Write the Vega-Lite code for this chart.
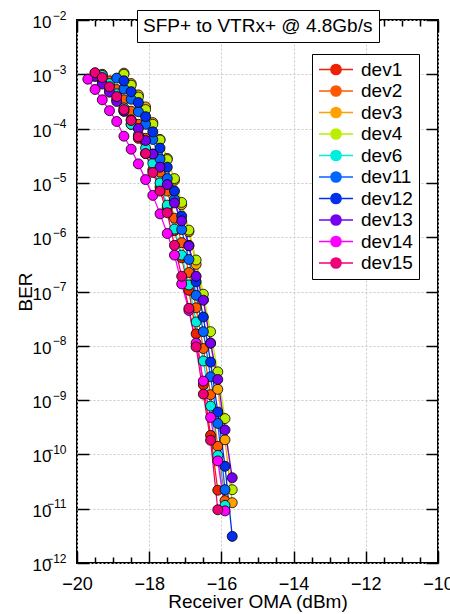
{
  "$schema": "https://vega.github.io/schema/vega-lite/v6.json",
  "width": 361,
  "height": 543,
  "autosize": {"type": "none"},
  "padding": {"left": 77, "top": 20, "right": 12, "bottom": 51},
  "background": "white",
  "config": {
    "font": "Liberation Sans",
    "view": {"stroke": "black", "strokeWidth": 2},
    "axis": {"domain": false, "tickColor": "black", "tickWidth": 1.5, "labelColor": "black", "titleColor": "black", "titleFontWeight": "normal", "gridColor": "#c8c8c8", "gridDash": [2, 2], "gridWidth": 1, "labelFlush": false, "labelOverlap": false}
  },
  "datasets": {
    "ber": [
      {"device": "dev1", "oma": -19.5, "ber": 1.05e-3},
      {"device": "dev1", "oma": -19.3, "ber": 7.59e-4},
      {"device": "dev1", "oma": -19.1, "ber": 5.25e-4},
      {"device": "dev1", "oma": -18.9, "ber": 3.39e-4},
      {"device": "dev1", "oma": -18.7, "ber": 2.09e-4},
      {"device": "dev1", "oma": -18.5, "ber": 1.20e-4},
      {"device": "dev1", "oma": -18.3, "ber": 6.61e-5},
      {"device": "dev1", "oma": -18.1, "ber": 3.47e-5},
      {"device": "dev1", "oma": -17.9, "ber": 1.74e-5},
      {"device": "dev1", "oma": -17.7, "ber": 8.32e-6},
      {"device": "dev1", "oma": -17.5, "ber": 3.55e-6},
      {"device": "dev1", "oma": -17.3, "ber": 1.32e-6},
      {"device": "dev1", "oma": -17.1, "ber": 4.17e-7},
      {"device": "dev1", "oma": -16.9, "ber": 1.05e-7},
      {"device": "dev1", "oma": -16.7, "ber": 1.66e-8},
      {"device": "dev1", "oma": -16.5, "ber": 1.91e-9},
      {"device": "dev1", "oma": -16.3, "ber": 2.24e-10},
      {"device": "dev1", "oma": -16.1, "ber": 2.19e-11},

      {"device": "dev2", "oma": -19.3, "ber": 1.0e-3},
      {"device": "dev2", "oma": -19.1, "ber": 7.59e-4},
      {"device": "dev2", "oma": -18.9, "ber": 5.25e-4},
      {"device": "dev2", "oma": -18.7, "ber": 3.39e-4},
      {"device": "dev2", "oma": -18.5, "ber": 2.09e-4},
      {"device": "dev2", "oma": -18.3, "ber": 1.20e-4},
      {"device": "dev2", "oma": -18.1, "ber": 6.61e-5},
      {"device": "dev2", "oma": -17.9, "ber": 3.39e-5},
      {"device": "dev2", "oma": -17.7, "ber": 1.58e-5},
      {"device": "dev2", "oma": -17.5, "ber": 7.08e-6},
      {"device": "dev2", "oma": -17.3, "ber": 2.24e-6},
      {"device": "dev2", "oma": -17.1, "ber": 7.94e-7},
      {"device": "dev2", "oma": -16.9, "ber": 2.24e-7},
      {"device": "dev2", "oma": -16.7, "ber": 5.01e-8},
      {"device": "dev2", "oma": -16.5, "ber": 8.91e-9},
      {"device": "dev2", "oma": -16.3, "ber": 1.26e-9},
      {"device": "dev2", "oma": -16.1, "ber": 1.41e-10},
      {"device": "dev2", "oma": -15.9, "ber": 1.41e-11},

      {"device": "dev3", "oma": -18.7, "ber": 1.05e-3},
      {"device": "dev3", "oma": -18.5, "ber": 6.76e-4},
      {"device": "dev3", "oma": -18.3, "ber": 4.17e-4},
      {"device": "dev3", "oma": -18.1, "ber": 2.51e-4},
      {"device": "dev3", "oma": -17.9, "ber": 1.29e-4},
      {"device": "dev3", "oma": -17.7, "ber": 6.31e-5},
      {"device": "dev3", "oma": -17.5, "ber": 2.82e-5},
      {"device": "dev3", "oma": -17.3, "ber": 1.12e-5},
      {"device": "dev3", "oma": -17.1, "ber": 3.98e-6},
      {"device": "dev3", "oma": -16.9, "ber": 1.26e-6},
      {"device": "dev3", "oma": -16.7, "ber": 3.16e-7},
      {"device": "dev3", "oma": -16.5, "ber": 7.08e-8},
      {"device": "dev3", "oma": -16.3, "ber": 1.12e-8},
      {"device": "dev3", "oma": -16.1, "ber": 1.58e-9},
      {"device": "dev3", "oma": -15.9, "ber": 1.86e-10},
      {"device": "dev3", "oma": -15.7, "ber": 1.29e-11},

      {"device": "dev4", "oma": -18.7, "ber": 1.0e-3},
      {"device": "dev4", "oma": -18.5, "ber": 6.31e-4},
      {"device": "dev4", "oma": -18.3, "ber": 3.80e-4},
      {"device": "dev4", "oma": -18.1, "ber": 2.24e-4},
      {"device": "dev4", "oma": -17.9, "ber": 1.20e-4},
      {"device": "dev4", "oma": -17.7, "ber": 6.17e-5},
      {"device": "dev4", "oma": -17.5, "ber": 2.69e-5},
      {"device": "dev4", "oma": -17.3, "ber": 1.20e-5},
      {"device": "dev4", "oma": -17.1, "ber": 4.37e-6},
      {"device": "dev4", "oma": -16.9, "ber": 1.35e-6},
      {"device": "dev4", "oma": -16.7, "ber": 3.80e-7},
      {"device": "dev4", "oma": -16.5, "ber": 8.91e-8},
      {"device": "dev4", "oma": -16.3, "ber": 1.82e-8},
      {"device": "dev4", "oma": -16.1, "ber": 3.31e-9},
      {"device": "dev4", "oma": -15.9, "ber": 4.57e-10},
      {"device": "dev4", "oma": -15.7, "ber": 2.24e-11},

      {"device": "dev6", "oma": -19.3, "ber": 9.55e-4},
      {"device": "dev6", "oma": -19.1, "ber": 6.76e-4},
      {"device": "dev6", "oma": -18.9, "ber": 4.37e-4},
      {"device": "dev6", "oma": -18.7, "ber": 2.40e-4},
      {"device": "dev6", "oma": -18.5, "ber": 1.20e-4},
      {"device": "dev6", "oma": -18.3, "ber": 7.59e-5},
      {"device": "dev6", "oma": -18.1, "ber": 4.37e-5},
      {"device": "dev6", "oma": -17.9, "ber": 2.29e-5},
      {"device": "dev6", "oma": -17.7, "ber": 1.0e-5},
      {"device": "dev6", "oma": -17.5, "ber": 3.89e-6},
      {"device": "dev6", "oma": -17.3, "ber": 1.41e-6},
      {"device": "dev6", "oma": -17.1, "ber": 4.68e-7},
      {"device": "dev6", "oma": -16.9, "ber": 1.32e-7},
      {"device": "dev6", "oma": -16.7, "ber": 2.75e-8},
      {"device": "dev6", "oma": -16.5, "ber": 5.25e-9},
      {"device": "dev6", "oma": -16.3, "ber": 7.76e-10},
      {"device": "dev6", "oma": -16.1, "ber": 9.55e-11},
      {"device": "dev6", "oma": -15.9, "ber": 1.15e-11},

      {"device": "dev11", "oma": -18.9, "ber": 8.51e-4},
      {"device": "dev11", "oma": -18.7, "ber": 5.37e-4},
      {"device": "dev11", "oma": -18.5, "ber": 3.47e-4},
      {"device": "dev11", "oma": -18.3, "ber": 2.04e-4},
      {"device": "dev11", "oma": -18.1, "ber": 1.20e-4},
      {"device": "dev11", "oma": -17.9, "ber": 6.31e-5},
      {"device": "dev11", "oma": -17.7, "ber": 2.75e-5},
      {"device": "dev11", "oma": -17.5, "ber": 1.20e-5},
      {"device": "dev11", "oma": -17.3, "ber": 5.01e-6},
      {"device": "dev11", "oma": -17.1, "ber": 1.38e-6},
      {"device": "dev11", "oma": -16.9, "ber": 3.89e-7},
      {"device": "dev11", "oma": -16.7, "ber": 8.51e-8},
      {"device": "dev11", "oma": -16.5, "ber": 1.82e-8},
      {"device": "dev11", "oma": -16.3, "ber": 2.69e-9},
      {"device": "dev11", "oma": -16.1, "ber": 3.72e-10},
      {"device": "dev11", "oma": -15.9, "ber": 2.24e-11},

      {"device": "dev12", "oma": -18.7, "ber": 7.59e-4},
      {"device": "dev12", "oma": -18.5, "ber": 4.79e-4},
      {"device": "dev12", "oma": -18.3, "ber": 3.02e-4},
      {"device": "dev12", "oma": -18.1, "ber": 1.66e-4},
      {"device": "dev12", "oma": -17.9, "ber": 8.71e-5},
      {"device": "dev12", "oma": -17.7, "ber": 4.37e-5},
      {"device": "dev12", "oma": -17.5, "ber": 1.95e-5},
      {"device": "dev12", "oma": -17.3, "ber": 7.08e-6},
      {"device": "dev12", "oma": -17.1, "ber": 2.45e-6},
      {"device": "dev12", "oma": -16.9, "ber": 7.08e-7},
      {"device": "dev12", "oma": -16.7, "ber": 1.51e-7},
      {"device": "dev12", "oma": -16.5, "ber": 3.39e-8},
      {"device": "dev12", "oma": -16.3, "ber": 5.01e-9},
      {"device": "dev12", "oma": -16.1, "ber": 6.03e-10},
      {"device": "dev12", "oma": -15.9, "ber": 6.03e-11},
      {"device": "dev12", "oma": -15.7, "ber": 3.09e-12},

      {"device": "dev13", "oma": -19.5, "ber": 9.12e-4},
      {"device": "dev13", "oma": -19.3, "ber": 6.61e-4},
      {"device": "dev13", "oma": -19.1, "ber": 4.68e-4},
      {"device": "dev13", "oma": -18.9, "ber": 3.16e-4},
      {"device": "dev13", "oma": -18.7, "ber": 2.09e-4},
      {"device": "dev13", "oma": -18.5, "ber": 1.45e-4},
      {"device": "dev13", "oma": -18.3, "ber": 1.0e-4},
      {"device": "dev13", "oma": -18.1, "ber": 6.03e-5},
      {"device": "dev13", "oma": -17.9, "ber": 3.39e-5},
      {"device": "dev13", "oma": -17.7, "ber": 1.95e-5},
      {"device": "dev13", "oma": -17.5, "ber": 9.33e-6},
      {"device": "dev13", "oma": -17.3, "ber": 4.27e-6},
      {"device": "dev13", "oma": -17.1, "ber": 2.0e-6},
      {"device": "dev13", "oma": -16.9, "ber": 6.92e-7},
      {"device": "dev13", "oma": -16.7, "ber": 1.91e-7},
      {"device": "dev13", "oma": -16.5, "ber": 6.92e-8},
      {"device": "dev13", "oma": -16.3, "ber": 1.12e-8},
      {"device": "dev13", "oma": -16.1, "ber": 2.40e-9},
      {"device": "dev13", "oma": -15.9, "ber": 2.82e-10},
      {"device": "dev13", "oma": -15.7, "ber": 3.72e-11},

      {"device": "dev14", "oma": -19.7, "ber": 8.13e-4},
      {"device": "dev14", "oma": -19.5, "ber": 5.25e-4},
      {"device": "dev14", "oma": -19.3, "ber": 3.39e-4},
      {"device": "dev14", "oma": -19.1, "ber": 2.14e-4},
      {"device": "dev14", "oma": -18.9, "ber": 1.35e-4},
      {"device": "dev14", "oma": -18.7, "ber": 7.24e-5},
      {"device": "dev14", "oma": -18.5, "ber": 4.17e-5},
      {"device": "dev14", "oma": -18.3, "ber": 2.24e-5},
      {"device": "dev14", "oma": -18.1, "ber": 1.15e-5},
      {"device": "dev14", "oma": -17.9, "ber": 5.89e-6},
      {"device": "dev14", "oma": -17.7, "ber": 2.69e-6},
      {"device": "dev14", "oma": -17.5, "ber": 1.17e-6},
      {"device": "dev14", "oma": -17.3, "ber": 4.68e-7},
      {"device": "dev14", "oma": -17.1, "ber": 1.38e-7},
      {"device": "dev14", "oma": -16.9, "ber": 4.47e-8},
      {"device": "dev14", "oma": -16.7, "ber": 1.12e-8},
      {"device": "dev14", "oma": -16.5, "ber": 2.24e-9},
      {"device": "dev14", "oma": -16.3, "ber": 4.79e-10},
      {"device": "dev14", "oma": -16.1, "ber": 7.59e-11},
      {"device": "dev14", "oma": -15.9, "ber": 9.12e-12},

      {"device": "dev15", "oma": -19.5, "ber": 1.07e-3},
      {"device": "dev15", "oma": -19.3, "ber": 8.71e-4},
      {"device": "dev15", "oma": -19.1, "ber": 5.89e-4},
      {"device": "dev15", "oma": -18.9, "ber": 3.89e-4},
      {"device": "dev15", "oma": -18.7, "ber": 2.24e-4},
      {"device": "dev15", "oma": -18.5, "ber": 1.41e-4},
      {"device": "dev15", "oma": -18.3, "ber": 7.08e-5},
      {"device": "dev15", "oma": -18.1, "ber": 3.47e-5},
      {"device": "dev15", "oma": -17.9, "ber": 1.55e-5},
      {"device": "dev15", "oma": -17.7, "ber": 7.08e-6},
      {"device": "dev15", "oma": -17.5, "ber": 2.82e-6},
      {"device": "dev15", "oma": -17.3, "ber": 7.08e-7},
      {"device": "dev15", "oma": -17.1, "ber": 1.91e-7},
      {"device": "dev15", "oma": -16.9, "ber": 4.90e-8},
      {"device": "dev15", "oma": -16.7, "ber": 9.55e-9},
      {"device": "dev15", "oma": -16.5, "ber": 1.29e-9},
      {"device": "dev15", "oma": -16.3, "ber": 1.82e-10},
      {"device": "dev15", "oma": -16.1, "ber": 9.55e-12}
    ]
  },
  "layer": [
    {
      "data": {"name": "ber"},
      "mark": {"type": "line", "strokeWidth": 1.3},
      "encoding": {
        "x": {"field": "oma", "type": "quantitative",
          "scale": {"domain": [-20, -10], "nice": false, "zero": false},
          "axis": {"orient": "bottom", "values": [-20, -18, -16, -14, -12, -10], "tickSize": -12, "labelFontSize": 18, "labelPadding": 24, "title": "Receiver OMA (dBm)", "titleFontSize": 19, "titlePadding": -1, "grid": true}},
        "y": {"field": "ber", "type": "quantitative",
          "scale": {"type": "log", "domain": [1e-12, 1e-2], "nice": false},
          "axis": {"orient": "left", "values": [1e-12, 1e-11, 1e-10, 1e-9, 1e-8, 1e-7, 1e-6, 1e-5, 1e-4, 1e-3, 1e-2], "tickSize": -12, "labelFontSize": 17, "labelPadding": 38, "labelOffset": 2.5,
            "labelExpr": "datum.value < 5e-10 ? '10\u2007' : '10'",
            "title": "BER", "titleFontSize": 19, "titlePadding": -3, "grid": true}},
        "color": {"field": "device", "type": "nominal",
          "scale": {"domain": ["dev1", "dev2", "dev3", "dev4", "dev6", "dev11", "dev12", "dev13", "dev14", "dev15"],
                    "range": ["#ee2200", "#ff5a00", "#ffa200", "#bbee00", "#00eedd", "#0066ff", "#0030ee", "#7700ee", "#ff00ff", "#ee0077"]},
          "legend": {"orient": "none", "legendX": 235, "legendY": 34, "title": null, "padding": 6, "strokeColor": "black", "fillColor": "white",
            "labelFontSize": 19, "labelOffset": 24, "labelColor": "black", "symbolSize": 289, "symbolStrokeWidth": 1.5, "rowPadding": 1.5,
            "symbolType": "M-1,0L3,0M1.6,0A0.6,0.6,0,1,1,0.4,0A0.6,0.6,0,1,1,1.6,0Z",
            "encode": {"symbols": {"update": {"fill": {"scale": "color", "field": "value"}, "stroke": {"scale": "color", "field": "value"}, "opacity": {"value": 1}}}}}}
      }
    },
    {
      "data": {"name": "ber"},
      "mark": {"type": "point", "filled": true, "size": 100, "stroke": "black", "strokeWidth": 0.8, "opacity": 1},
      "encoding": {
        "x": {"field": "oma", "type": "quantitative",
          "axis": {"orient": "top", "values": [-20, -18, -16, -14, -12, -10], "tickSize": -12, "labels": false, "grid": false, "title": null}},
        "y": {"field": "ber", "type": "quantitative",
          "axis": {"orient": "right", "values": [1e-12, 1e-11, 1e-10, 1e-9, 1e-8, 1e-7, 1e-6, 1e-5, 1e-4, 1e-3, 1e-2], "tickSize": -12, "labels": false, "grid": false, "title": null}},
        "color": {"field": "device", "type": "nominal"}
      }
    },
    {
      "data": {"name": "ber"},
      "mark": {"type": "point", "opacity": 0},
      "encoding": {
        "x": {"field": "oma", "type": "quantitative",
          "axis": {"orient": "bottom", "values": [-19.5, -19, -18.5, -17.5, -17, -16.5, -15.5, -15, -14.5, -13.5, -13, -12.5, -11.5, -11, -10.5], "tickSize": -6, "labels": false, "grid": false, "title": null}},
        "y": {"field": "ber", "type": "quantitative",
          "axis": {"orient": "left", "values": [1e-12, 1e-11, 1e-10, 1e-9, 1e-8, 1e-7, 1e-6, 1e-5, 1e-4, 1e-3, 1e-2], "ticks": false, "labelFontSize": 12, "labelPadding": 11, "labelOffset": -5,
            "labelExpr": "['0','−1','−2','−3','−4','−5','−6','−7','−8','−9','−10','−11','−12'][round(-log(datum.value)/LN10)]",
            "grid": false, "title": null}}
      }
    },
    {
      "data": {"name": "ber"},
      "mark": {"type": "point", "opacity": 0},
      "encoding": {
        "x": {"field": "oma", "type": "quantitative",
          "axis": {"orient": "top", "values": [-19.5, -19, -18.5, -17.5, -17, -16.5, -15.5, -15, -14.5, -13.5, -13, -12.5, -11.5, -11, -10.5], "tickSize": -6, "labels": false, "grid": false, "title": null}},
        "y": {"field": "ber", "type": "quantitative", "axis": null}
      }
    },
    {
      "data": {"values": [{"setup": "SFP+ to VTRx+ @ 4.8Gb/s"}]},
      "mark": {"type": "point", "opacity": 0},
      "encoding": {
        "shape": {"field": "setup", "type": "nominal",
          "legend": {"orient": "none", "legendX": 60, "legendY": -10, "title": null, "padding": 6, "strokeColor": "black", "fillColor": "white",
            "labelFontSize": 19, "labelLimit": 400, "labelOffset": -19, "labelColor": "black", "symbolSize": 0, "symbolOpacity": 0, "symbolStrokeWidth": 0}}
      }
    }
  ],
  "resolve": {"axis": {"x": "independent", "y": "independent"}}
}
